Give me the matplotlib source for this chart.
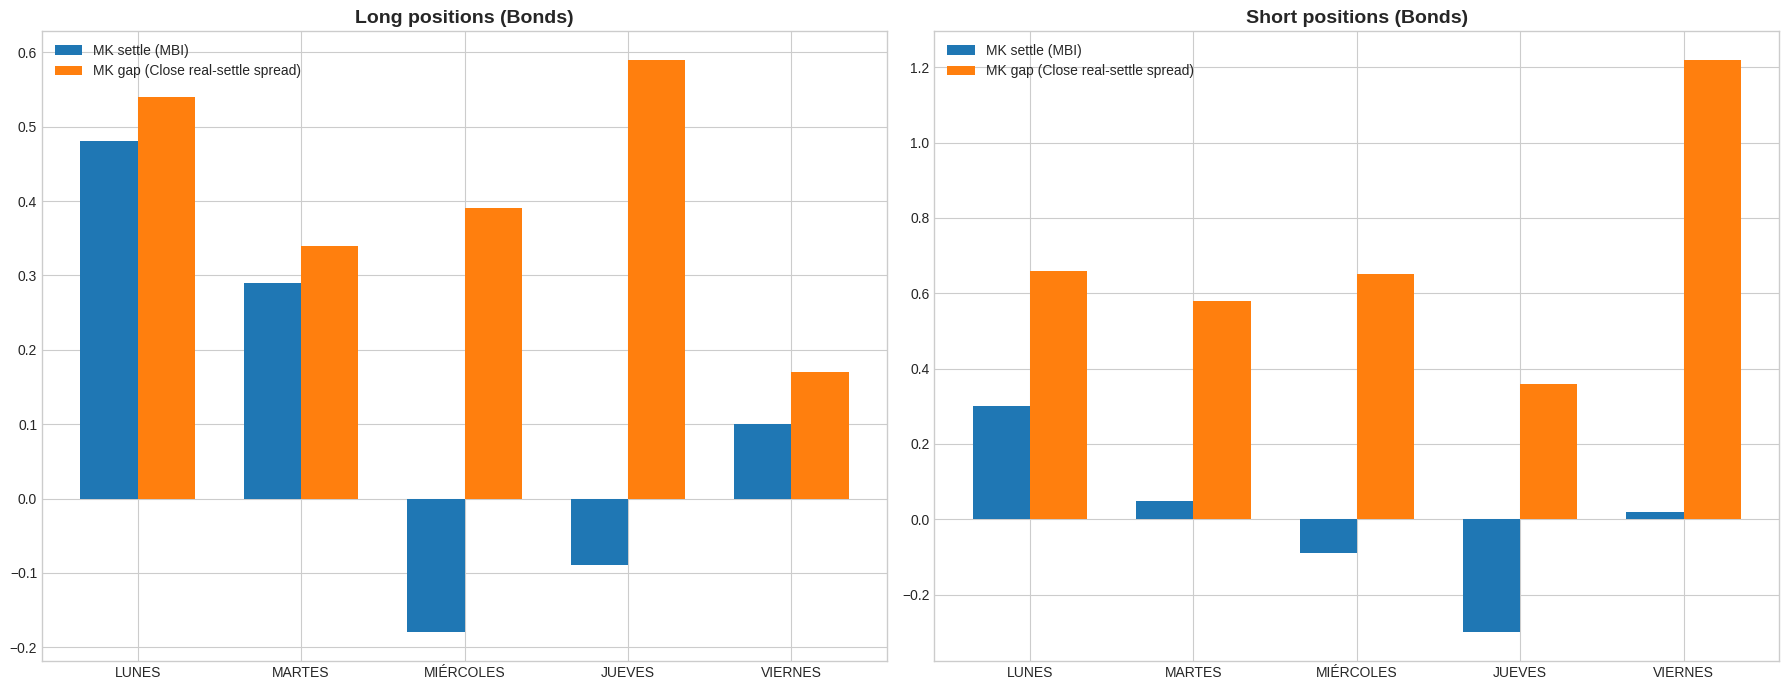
import matplotlib
matplotlib.use('Agg')
import matplotlib.pyplot as plt
import numpy as np

dias = ['LUNES', 'MARTES', 'MIÉRCOLES', 'JUEVES', 'VIERNES']

long_settle = [0.48, 0.29, -0.18, -0.09, 0.10]
long_gap = [0.54, 0.34, 0.39, 0.59, 0.17]

short_settle = [0.30, 0.05, -0.09, -0.30, 0.02]
short_gap = [0.66, 0.58, 0.65, 0.36, 1.22]

plt.style.use('seaborn-v0_8-whitegrid')
plt.rcParams['font.family'] = ['Liberation Sans', 'DejaVu Sans']

fig, axes = plt.subplots(1, 2, figsize=(17.9, 6.9), dpi=100)
x = np.arange(len(dias))
ancho = 0.35

def barras(ax, settle, gap, titulo):
    ax.bar(x - ancho / 2, settle, ancho, label='MK settle (MBI)', color='#1f77b4')
    ax.bar(x + ancho / 2, gap, ancho, label='MK gap (Close real-settle spread)', color='#ff7f0e')
    ax.set_xticks(x)
    ax.set_xticklabels(dias)
    ax.set_title(titulo, fontsize=14, fontweight='bold')
    ax.tick_params(labelsize=10)
    ax.legend(loc='upper left', fontsize=10)

barras(axes[0], long_settle, long_gap, 'Long positions (Bonds)')
barras(axes[1], short_settle, short_gap, 'Short positions (Bonds)')

plt.subplots_adjust(left=0.0235, right=0.994, top=0.955, bottom=0.042, wspace=0.056)
plt.savefig('out.png')
